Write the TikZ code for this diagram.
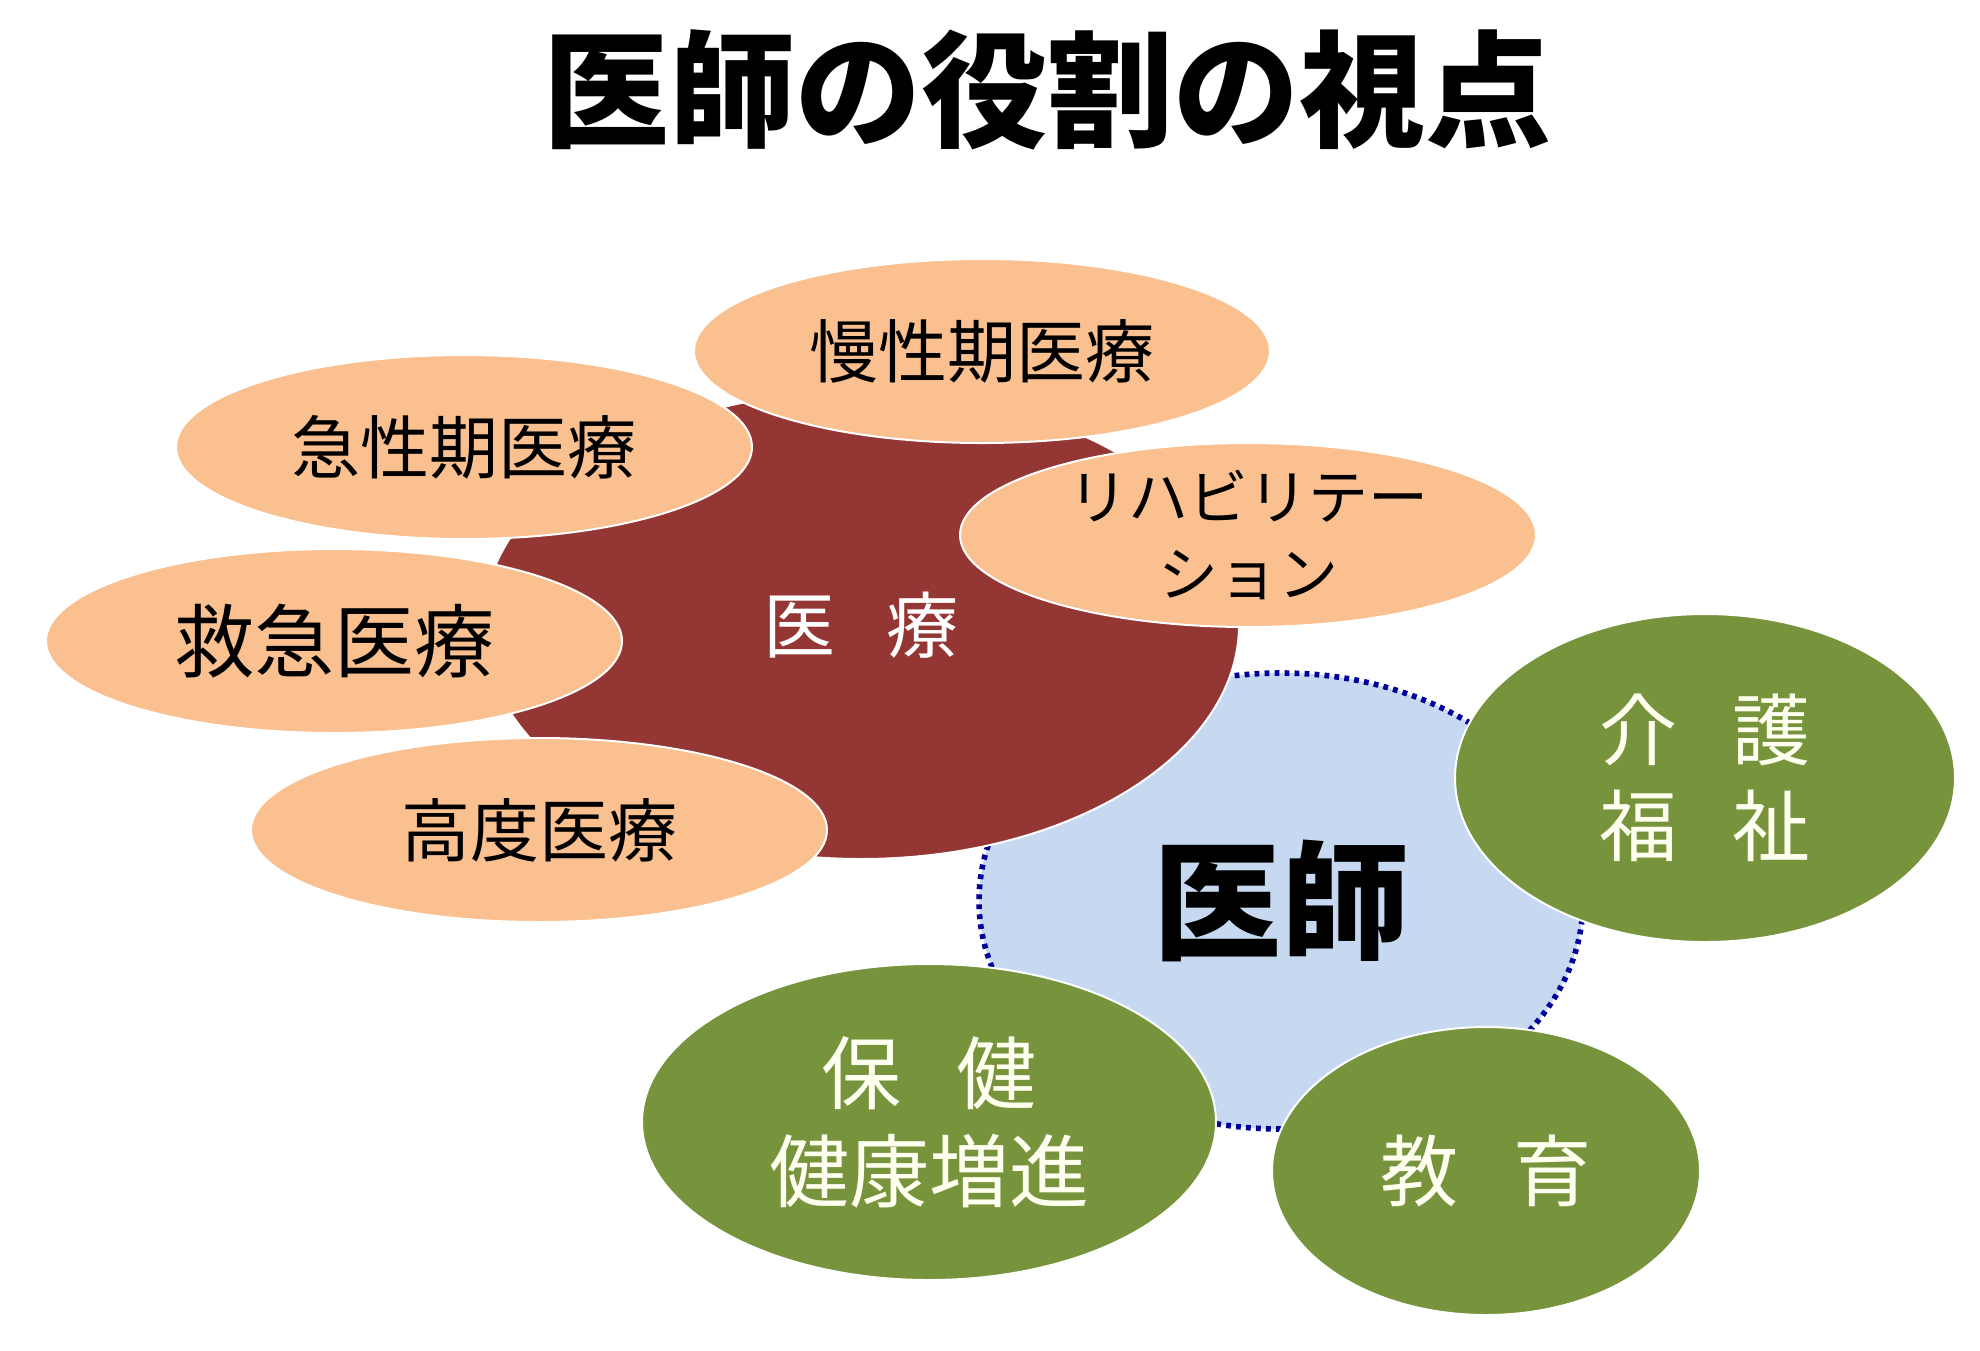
\documentclass[tikz,border=0pt]{standalone}
\usepackage{fontspec}
\setmainfont{Noto Sans CJK JP}
\usetikzlibrary{shapes.geometric}

\definecolor{iryored}{HTML}{943634}
\definecolor{peach}{HTML}{FAC090}
\definecolor{fieldgreen}{HTML}{77933C}
\definecolor{paleblue}{HTML}{C6D9F1}
\definecolor{dotblue}{HTML}{00009C}
\definecolor{cream}{HTML}{FFFFF0}

\newcommand{\jgap}{\hspace{0.7em}}

\begin{document}
\begin{tikzpicture}[
x=0.5pt, y=-0.5pt,
every node/.style={inner sep=0pt, align=center},
core/.style={ellipse, fill=iryored, draw=white, line width=1pt},
doctor/.style={ellipse, fill=paleblue, draw=dotblue, line width=2.8pt,
  dash pattern=on 2.4pt off 2.6pt},
field/.style={ellipse, fill=peach, draw=white, line width=1pt,
  minimum width=288pt, minimum height=92pt,
  font=\fontsize{34.5pt}{40pt}\selectfont},
area/.style={ellipse, fill=fieldgreen, draw=white, line width=1pt,
  text=cream, font=\fontsize{39pt}{48pt}\selectfont}
]

\useasboundingbox (0,0) rectangle (1980,1350);
\fill[white] (0,0) rectangle (1980,1350);

\node[font=\bfseries\fontsize{63pt}{70pt}\selectfont] (title)
  at (1047,90) {医師の役割の視点};

\node[doctor, minimum width=302pt, minimum height=228pt,
font=\bfseries\fontsize{64pt}{70pt}\selectfont] (ishi)
  at (1281,901) {医師};

\node[core, minimum width=378pt, minimum height=234pt,
text=white, font=\fontsize{36pt}{40pt}\selectfont] (iryo)
  at (861,625) {医\jgap 療};

\node[field] (mansei) at (982,351) {慢性期医療};
\node[field] (kyusei) at (464,447) {急性期医療};
\node[field] (reha) at (1248,535) {};
\node[font=\fontsize{30pt}{38.5pt}\selectfont] (rehatext)
  at (reha) {リハビリテー\\ション};
\node[field, font=\fontsize{40pt}{44pt}\selectfont] (kyukyu)
  at (334,641) {救急医療};
\node[field] (kodo) at (539,830) {高度医療};

\node[area, minimum width=250pt, minimum height=164pt] (kaigo)
  at (1705,778) {介\jgap 護\\福\jgap 祉};
\node[area, minimum width=287pt, minimum height=158pt,
font=\fontsize{40pt}{49pt}\selectfont] (hoken)
  at (929,1122) {保\jgap 健\\健康増進};
\node[area, minimum width=214pt, minimum height=144pt] (kyoiku)
  at (1486,1171) {教\jgap 育};

\end{tikzpicture}
\end{document}
